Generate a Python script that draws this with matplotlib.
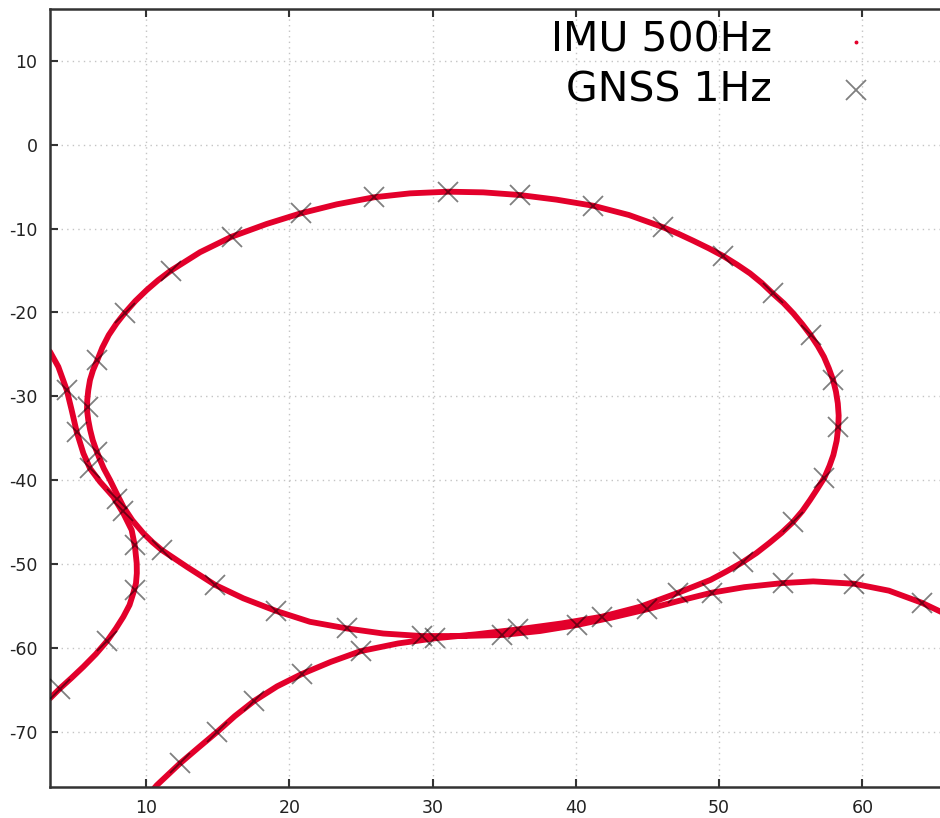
import numpy as np
import matplotlib
matplotlib.use("Agg")
import matplotlib.pyplot as plt

plt.rcParams['axes.unicode_minus'] = False

# IMU trajectory (500Hz) - main pass
imu_x = [10.3, 10.75, 12.37, 13.7, 14.98, 16.2, 17.54, 19.15, 20.87, 22.9,
         24.98, 27.6, 30.17, 33.0, 35.98, 39.0, 41.8, 44.5, 47.15, 49.4,
         50.5, 51.63, 52.6, 53.5, 54.35, 55.13, 55.8, 56.34, 56.85, 57.34,
         57.7, 57.97, 58.2, 58.31, 58.34, 58.28, 58.15, 57.95, 57.65, 57.31,
         56.88, 56.38, 55.8, 55.17, 54.5, 53.73, 52.98, 52.15, 51.25, 50.29,
         49.27, 48.19, 47.15, 46.10, 43.7, 41.22, 38.65, 36.10, 33.54, 31.10,
         28.42, 25.9, 23.31, 20.80, 18.42, 15.98, 13.77, 11.72, 10.85, 10.05,
         9.25, 8.53, 7.95, 7.4, 6.95, 6.6, 6.3, 6.09, 5.97, 5.90,
         5.88, 5.97, 6.1, 6.28, 6.5, 6.75, 7.05, 7.49, 7.95, 8.42,
         9.05, 9.82, 10.45, 11.1, 12.84, 14.82, 16.79, 19.07, 21.44, 24.0,
         26.56, 29.24, 32.0, 34.82, 37.5, 40.05, 42.5, 44.94, 47.2, 49.48,
         51.76, 54.44, 56.56, 59.40, 61.85, 64.13, 65.41, 67.0]
imu_y = [-77.3, -76.4, -73.79, -71.85, -70.01, -68.15, -66.35, -64.6, -63.13, -61.68,
         -60.4, -59.48, -58.87, -58.4, -57.8, -57.1, -56.3, -55.1, -53.43, -51.9,
         -50.9, -49.8, -48.7, -47.5, -46.3, -45.04, -43.7, -42.38, -41.05, -39.72,
         -38.3, -37.0, -35.3, -33.71, -32.3, -30.85, -29.45, -28.06, -26.65, -25.29,
         -24.0, -22.70, -21.4, -20.11, -18.9, -17.72, -16.5, -15.34, -14.3, -13.28,
         -12.35, -11.45, -10.62, -9.85, -8.38, -7.28, -6.55, -6.0, -5.68, -5.60,
         -5.8, -6.27, -7.11, -8.18, -9.45, -10.97, -12.82, -15.03, -16.15, -17.33,
         -18.65, -20.04, -21.3, -22.7, -24.2, -25.7, -26.9, -28.07, -29.3, -30.45,
         -31.6, -32.84, -34.0, -35.22, -36.3, -37.4, -38.6, -40.0, -41.6, -43.18,
         -44.8, -46.35, -47.4, -48.34, -50.33, -52.5, -54.1, -55.6, -56.9, -57.69,
         -58.3, -58.6, -58.6, -58.48, -58.0, -57.29, -56.4, -55.42, -54.4, -53.43,
         -52.77, -52.28, -52.08, -52.36, -53.19, -54.62, -55.66, -57.0]

# IMU trajectory - second pass along the left edge
imu2_x = [3.0, 3.30, 3.88, 4.47, 4.81, 5.16, 5.63, 6.09, 6.79, 7.72,
          8.42, 9.0, 9.23, 9.35, 9.36, 9.30, 9.11, 8.85, 8.42, 7.9,
          7.30, 6.5, 5.63, 4.8, 4.0, 3.30, 2.8]
imu2_y = [-24.2, -24.69, -26.48, -29.26, -31.64, -34.23, -36.81, -38.6, -40.2, -41.99,
          -43.97, -45.96, -47.95, -49.93, -51.1, -52.31, -53.5, -54.9, -56.3, -57.7,
          -59.16, -60.75, -62.26, -63.6, -64.84, -66.03, -66.6]

# GNSS fixes (1Hz)
gnss_x = [12.37, 14.98, 17.54, 20.87, 24.98, 30.17, 35.98, 41.80, 47.15, 51.63,
          55.13, 57.34, 58.31, 57.92, 56.38, 53.73, 50.29, 46.10, 41.22, 36.10,
          31.10, 25.9, 20.80, 15.98, 11.72, 8.53, 6.6, 5.97, 6.55, 7.95,
          11.1, 14.82, 19.07, 24.0, 29.24, 34.82, 40.05, 44.94, 49.48, 54.44,
          59.40, 64.13,
          4.47, 5.16, 6.09, 8.37, 9.23, 9.23, 7.3, 4.0]
gnss_y = [-73.79, -70.01, -66.35, -63.13, -60.4, -58.87, -57.8, -56.3, -53.43, -49.8,
          -45.04, -39.72, -33.71, -28.06, -22.70, -17.72, -13.28, -9.85, -7.28, -6.0,
          -5.60, -6.27, -8.18, -10.97, -15.03, -20.04, -25.7, -31.32, -36.62, -42.3,
          -48.34, -52.5, -55.6, -57.69, -58.6, -58.48, -57.29, -55.42, -53.43, -52.28,
          -52.36, -54.62,
          -29.26, -34.23, -38.6, -43.69, -47.75, -53.1, -59.2, -64.9]

xticks = [10, 20, 30, 40, 50, 60]
yticks = [-70, -60, -50, -40, -30, -20, -10, 0, 10]

red = '#e3002b'

fig = plt.figure(figsize=(9.4, 8.18), dpi=100)
ax = fig.add_axes([50/940, (818-786.7)/818, (955.6-50)/940, (786.7-9)/818])

ax.plot(imu_x, imu_y, color=red, lw=4.2, solid_capstyle='round',
        solid_joinstyle='round', zorder=2)
ax.plot(imu2_x, imu2_y, color=red, lw=4.2, solid_capstyle='round',
        solid_joinstyle='round', zorder=2)
ax.plot(gnss_x, gnss_y, ls='none', marker='x', ms=15, mew=1.3,
        color='black', alpha=0.5, zorder=3)

ax.set_xticks(xticks)
ax.set_yticks(yticks)
ax.set_xlim(3.3, 66.5)
ax.set_ylim(-76.57, 16.19)
ax.grid(True, ls=(0, (1, 3)), color='#c4c4c4', lw=1)
ax.set_axisbelow(True)
ax.tick_params(direction='in', length=6, width=1.5, color='#333333',
               labelsize=12.5, labelcolor='#222222', top=True, right=True, pad=9)
for s in ax.spines.values():
    s.set_linewidth(1.8)
    s.set_color('#333333')

# gnuplot style key (text right aligned, sample on the right)
fig.text(772/940, 1 - 40/818, 'IMU 500Hz', ha='right', va='center', fontsize=29.5)
fig.text(772/940, 1 - 90/818, 'GNSS 1Hz', ha='right', va='center', fontsize=29.5)
ax.plot([856/940], [1 - 42/818], transform=fig.transFigure, ls='none', marker='o',
        ms=1.8, color=red, clip_on=False)
ax.plot([856/940], [1 - 90/818], transform=fig.transFigure, ls='none', marker='x',
        ms=15, mew=1.3, color='black', alpha=0.5, clip_on=False)

fig.savefig('out.png', dpi=100)
